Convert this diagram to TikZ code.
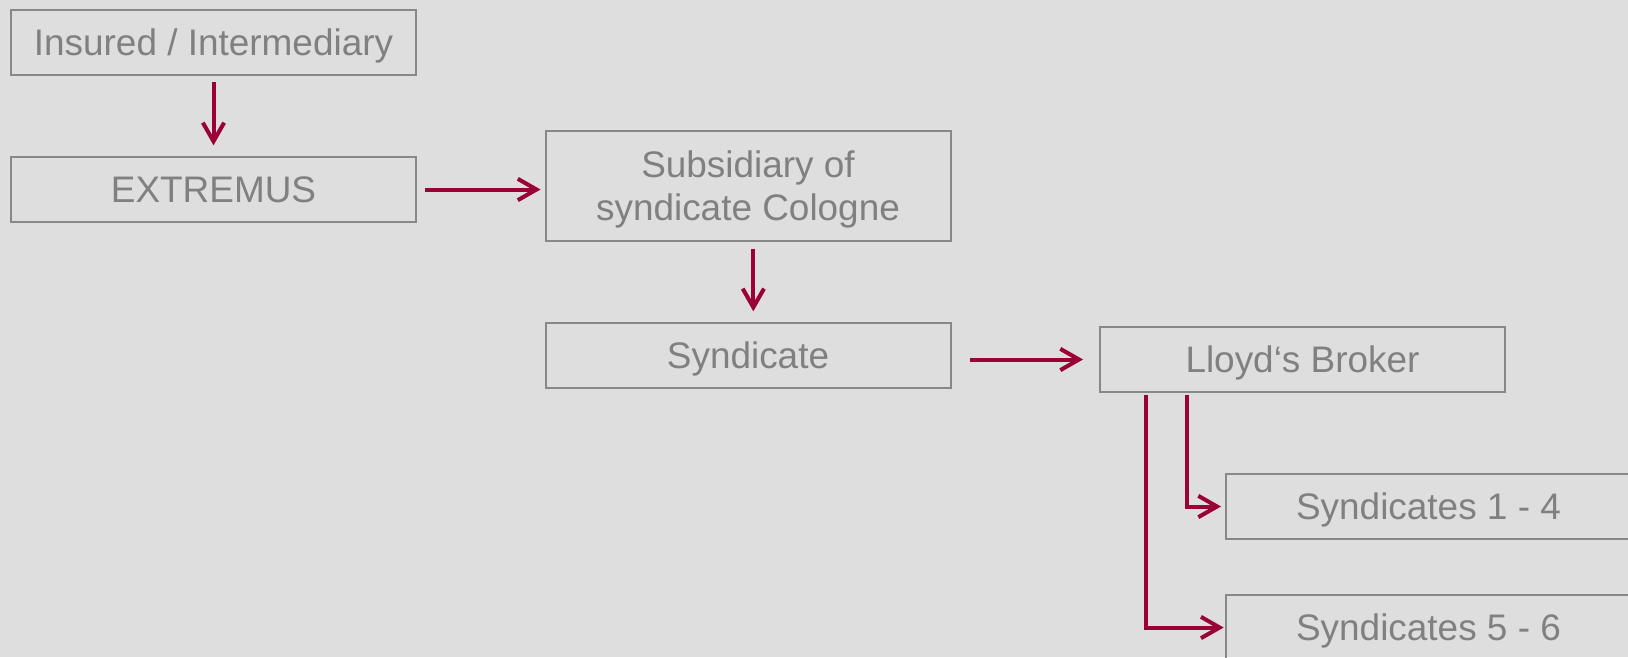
\documentclass[tikz,border=0pt]{standalone}
\usepackage{fontspec}
\setmainfont{Liberation Sans}
\usetikzlibrary{arrows.meta}
\definecolor{bgrey}{RGB}{222,222,222}
\definecolor{tgrey}{RGB}{128,128,128}
\definecolor{fgrey}{RGB}{136,136,136}
\definecolor{wine}{RGB}{155,0,55}

\begin{document}
\begin{tikzpicture}[x=0.75pt,y=-0.75pt,
  box/.style={draw=fgrey,line width=1.5pt,text=tgrey,minimum width=303.75pt,minimum height=48.75pt,
    inner sep=0pt,align=center,text height=19.8pt,text depth=0pt,font=\fontsize{27.7}{32.3}\selectfont},
  arr/.style={wine,line width=3pt,-{Straight Barb[length=14pt,width=16pt]}}]
\fill[bgrey] (0,0) rectangle (1628,657);
\useasboundingbox (0,0) rectangle (1628,657);
\node[box] (ins) at (213.5,42) {Insured / Intermediary};
\node[box] (ext) at (213.5,189.5) {EXTREMUS};
\node[box,minimum height=82.5pt,text height=52.1pt] (sub) at (748,186) {Subsidiary of\\syndicate Cologne};
\node[box] (syn) at (748,355.5) {Syndicate};
\node[box] (lloyd) at (1302.5,359.5) {Lloyd‘s Broker};
\node[box] (s14) at (1428.5,506.5) {Syndicates 1 - 4};
\node[box] (s56) at (1428.5,627.5) {Syndicates 5 - 6};
%arrows
\draw[arr,shorten <=5pt,shorten >=8pt] (ins) -- (ext);
\draw[arr,shorten <=6pt,shorten >=3pt] (ext.east) -- (ext.east -| sub.west);
\draw[arr,shorten <=5pt,shorten >=8pt] ([xshift=4pt]sub.south) -- ([xshift=4pt]syn.north);
\draw[arr,shorten <=13.5pt,shorten >=12pt] (syn.east |- lloyd.west) -- (lloyd.west);
\draw[arr,shorten <=1.5pt,shorten >=3pt] ([xshift=66pt]lloyd.south west) |- (s14.west);
\draw[arr,shorten <=1.5pt,shorten >=1pt] ([xshift=35.25pt]lloyd.south west) |- (s56.west);
\end{tikzpicture}
\end{document}
